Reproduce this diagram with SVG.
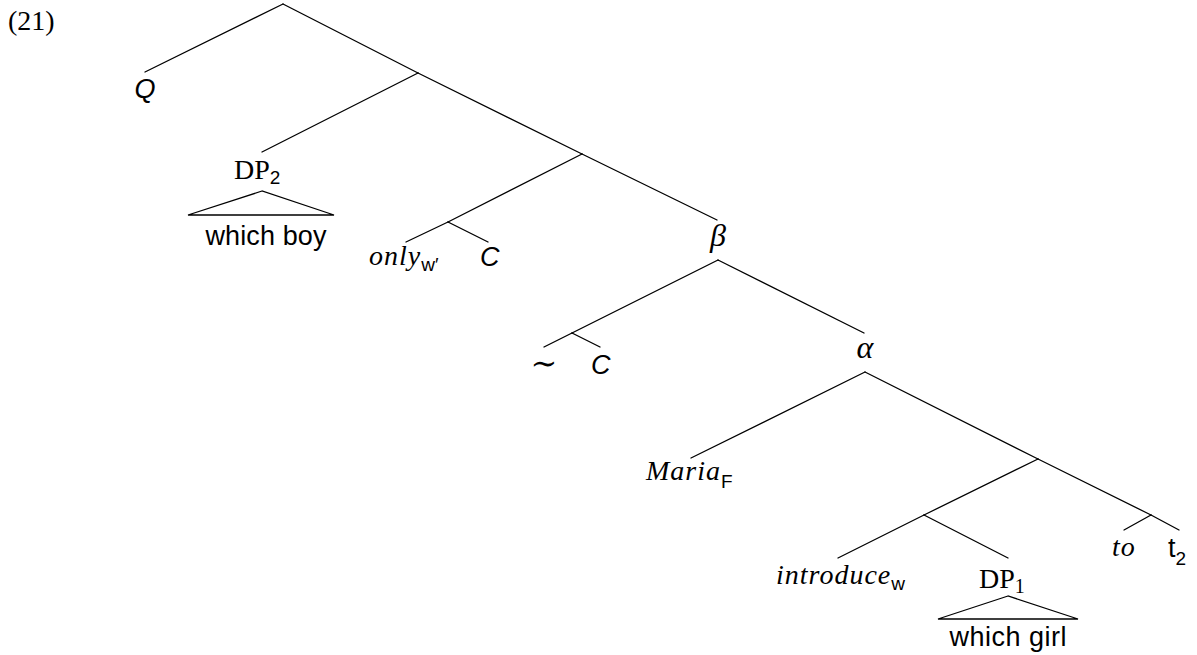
<svg xmlns="http://www.w3.org/2000/svg" width="1197" height="655" viewBox="0 0 1197 655">
  <style>
    .edge { stroke: #000; stroke-width: 1.3; fill: none; stroke-linecap: round; }
    .tri { stroke: #000; stroke-width: 1.3; fill: none; stroke-linejoin: miter; }
    .rm { font-family: "Liberation Serif", "DejaVu Serif", serif; font-size: 28px; fill: #000; }
    .mi { font-family: "Liberation Serif", "DejaVu Serif", serif; font-style: italic; font-size: 28px; letter-spacing: 1px; fill: #000; }
    .greek { font-family: "Liberation Serif", "DejaVu Serif", serif; font-style: italic; font-size: 32px; fill: #000; }
    .ss { font-family: "Liberation Sans", "DejaVu Sans", sans-serif; font-size: 27px; fill: #000; }
    .si { font-family: "Liberation Sans", "DejaVu Sans", sans-serif; font-style: italic; font-size: 27px; fill: #000; }
    .sub { font-family: "Liberation Sans", "DejaVu Sans", sans-serif; font-style: normal; font-size: 19px; letter-spacing: 0; fill: #000; }
    .subrm { font-family: "Liberation Serif", "DejaVu Serif", serif; font-style: normal; font-size: 20px; fill: #000; }
    .mid { text-anchor: middle; }
  </style>

  <!-- example number -->
  <text id="exnum" class="rm" x="8" y="30">(21)</text>

  <!-- tree edges -->
  <g id="connectors">
    <line class="edge" x1="283" y1="4" x2="145" y2="72"/>
    <line class="edge" x1="283" y1="4" x2="418" y2="73"/>
    <line class="edge" x1="418" y1="73" x2="262" y2="152"/>
    <line class="edge" x1="418" y1="73" x2="582" y2="154"/>
    <line class="edge" x1="582" y1="154" x2="448" y2="222"/>
    <line class="edge" x1="448" y1="222" x2="406" y2="242"/>
    <line class="edge" x1="448" y1="222" x2="488" y2="242"/>
    <line class="edge" x1="582" y1="154" x2="717" y2="220"/>
    <line class="edge" x1="718" y1="260" x2="572" y2="333"/>
    <line class="edge" x1="572" y1="333" x2="544" y2="347"/>
    <line class="edge" x1="572" y1="333" x2="600" y2="347"/>
    <line class="edge" x1="718" y1="260" x2="864" y2="333"/>
    <line class="edge" x1="865" y1="372" x2="691" y2="458"/>
    <line class="edge" x1="865" y1="372" x2="1038" y2="459"/>
    <line class="edge" x1="1038" y1="459" x2="924" y2="515"/>
    <line class="edge" x1="924" y1="515" x2="838" y2="558"/>
    <line class="edge" x1="924" y1="515" x2="1008" y2="558"/>
    <line class="edge" x1="1038" y1="459" x2="1151" y2="515"/>
    <line class="edge" x1="1151" y1="515" x2="1124" y2="530"/>
    <line class="edge" x1="1151" y1="515" x2="1179" y2="530"/>
  </g>

  <g id="node-q">
    <text class="si mid" x="145" y="98">Q</text>
  </g>

  <g id="node-dp2">
    <text class="rm" x="234" y="179">DP<tspan class="sub" dy="5">2</tspan></text>
    <polygon class="tri" points="262,191 188,215 334,215"/>
    <text class="ss mid" x="266" y="245" textLength="121" lengthAdjust="spacing">which boy</text>
  </g>

  <g id="node-only">
    <text class="mi" x="369" y="265">only<tspan class="sub" dy="6">w′</tspan></text>
  </g>

  <g id="node-c1">
    <text class="si" x="480" y="266">C</text>
  </g>

  <g id="node-beta">
    <text class="greek mid" x="718" y="246">β</text>
  </g>

  <g id="node-sim">
    <text x="544" y="374" text-anchor="middle" style="font-family: 'DejaVu Serif', serif; font-size: 32px;">∼</text>
  </g>

  <g id="node-c2">
    <text class="si" x="591" y="374">C</text>
  </g>

  <g id="node-alpha">
    <text class="greek mid" x="865" y="358">α</text>
  </g>

  <g id="node-maria">
    <text class="mi" x="646" y="480">Maria<tspan class="sub" dy="8">F</tspan></text>
  </g>

  <g id="node-introduce">
    <text class="mi" x="776" y="584">introduce<tspan class="sub" dy="6">w</tspan></text>
  </g>

  <g id="node-dp1">
    <text class="rm" x="979" y="588">DP<tspan class="subrm" dy="5">1</tspan></text>
    <polygon class="tri" points="1008,596 938,619 1078,619"/>
    <text class="ss mid" x="1008" y="646" textLength="117" lengthAdjust="spacing">which girl</text>
  </g>

  <g id="node-to">
    <text class="mi" x="1112" y="556">to</text>
  </g>

  <g id="node-t2">
    <text class="ss" x="1168" y="557">t<tspan class="sub" dy="8">2</tspan></text>
  </g>
</svg>
